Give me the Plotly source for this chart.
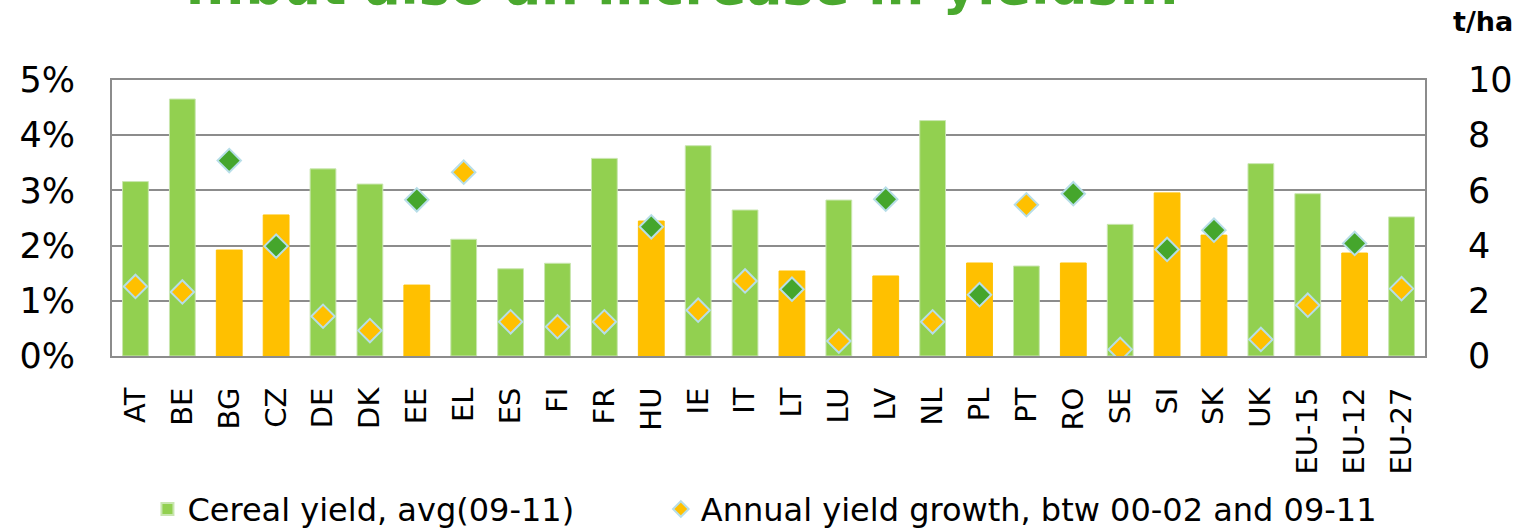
import plotly.graph_objects as go

categories = ["AT", "BE", "BG", "CZ", "DE", "DK", "EE", "EL", "ES", "FI", "FR", "HU", "IE", "IT",
              "LT", "LU", "LV", "NL", "PL", "PT", "RO", "SE", "SI", "SK", "UK", "EU-15", "EU-12", "EU-27"]
new_members = ["BG", "CZ", "EE", "HU", "LT", "LV", "PL", "RO", "SI", "SK", "EU-12"]

# Cereal yield, avg(09-11), t/ha (right axis)
cereal_yield = [6.32, 9.31, 3.84, 5.11, 6.78, 6.23, 2.57, 4.23, 3.16, 3.36, 7.16, 4.89, 7.62, 5.29,
                3.08, 5.65, 2.90, 8.53, 3.37, 3.26, 3.37, 4.77, 5.91, 4.38, 6.97, 5.88, 3.73, 5.04]
# Annual yield growth between 00-02 and 09-11, % (left axis)
yield_growth = [1.26, 1.16, 3.54, 1.99, 0.72, 0.46, 2.83, 3.33, 0.62, 0.53, 0.62, 2.34, 0.83, 1.36,
                1.21, 0.27, 2.84, 0.62, 1.11, 2.74, 2.94, 0.12, 1.93, 2.28, 0.30, 0.92, 2.04, 1.22]

pct_ticks = [0, 1, 2, 3, 4, 5]
pct_tick_labels = ["0%", "1%", "2%", "3%", "4%", "5%"]
tha_ticks = [0, 2, 4, 6, 8, 10]

GREEN = "#92D050"
ORANGE = "#FFC000"
DARK_GREEN = "#45A62C"
OUTLINE = "#B7DEE8"
GRID = "#8C8C8C"
FONT = "DejaVu Sans"

bar_colors = [ORANGE if c in new_members else GREEN for c in categories]
bar_lines = [ORANGE if c in new_members else "#C9E6B0" for c in categories]
dia_colors = [DARK_GREEN if c in new_members else ORANGE for c in categories]

fig = go.Figure()
# bars on the base axis (t/ha, drawn on the right side)
fig.add_trace(go.Bar(
    x=categories, y=cereal_yield, yaxis="y", name="Cereal yield, avg(09-11)",
    marker=dict(color=bar_colors, line=dict(color=bar_lines, width=1)),
    legend="legend",
))
# diamonds on the overlaying axis (%, drawn on the left side) so they sit above the bars
fig.add_trace(go.Scatter(
    x=categories, y=yield_growth, yaxis="y2", mode="markers",
    name="Annual yield growth, btw 00-02 and 09-11",
    marker=dict(symbol="diamond", size=18, color=dia_colors, line=dict(color=OUTLINE, width=2)),
    legend="legend2",
))

legend_common = dict(orientation="h", y=-0.555, xanchor="left", yanchor="middle",
                     font=dict(size=32, family=FONT), itemsizing="constant",
                     bgcolor="rgba(0,0,0,0)")

fig.update_layout(
    width=1524, height=531,
    margin=dict(l=112, r=99, t=80, b=175, autoexpand=False),
    paper_bgcolor="white", plot_bgcolor="white",
    font=dict(family=FONT, color="black"),
    bargap=0.45,
    showlegend=True,
    legend=dict(x=0.027, **legend_common),
    legend2=dict(x=0.418, **legend_common),
    xaxis=dict(type="category", range=[-0.5, len(categories) - 0.5], tickangle=-90,
               tickfont=dict(size=29, family=FONT), ticklabelstandoff=18, automargin=False,
               showline=True, linecolor=GRID, linewidth=2, mirror=True, ticks="", showgrid=False),
    yaxis=dict(range=[0, 10], tickvals=tha_ticks, side="right", automargin=False,
               tickfont=dict(size=35, family=FONT), ticklabelstandoff=34,
               showgrid=True, gridcolor=GRID, gridwidth=2,
               showline=True, linecolor=GRID, linewidth=2, mirror=True, zeroline=False, ticks=""),
    yaxis2=dict(range=[0, 5], tickvals=pct_ticks, ticktext=pct_tick_labels, overlaying="y", side="left",
                tickfont=dict(size=35, family=FONT), ticklabelstandoff=36, automargin=False,
                showgrid=False, zeroline=False, ticks=""),
    annotations=[
        dict(text="...but also an increase in yields...", x=(682 - 112) / 1313, y=(356 + 15) / 276,
             xref="paper", yref="paper", xanchor="center", yanchor="middle", showarrow=False,
             font=dict(size=53, family=FONT, color="#4AA82E", weight="bold")),
        dict(text="<b>t/ha</b>", x=(1483 - 112) / 1313, y=(356 - 22) / 276, xref="paper", yref="paper",
             xanchor="center", yanchor="middle", showarrow=False,
             font=dict(size=27, family=FONT)),
    ],
)

# remove the browser's default 8px body margin so the figure sits at the page's top-left corner
fig.write_html("out.html", config={"displayModeBar": False},
               post_script="document.body.style.margin='0';")
